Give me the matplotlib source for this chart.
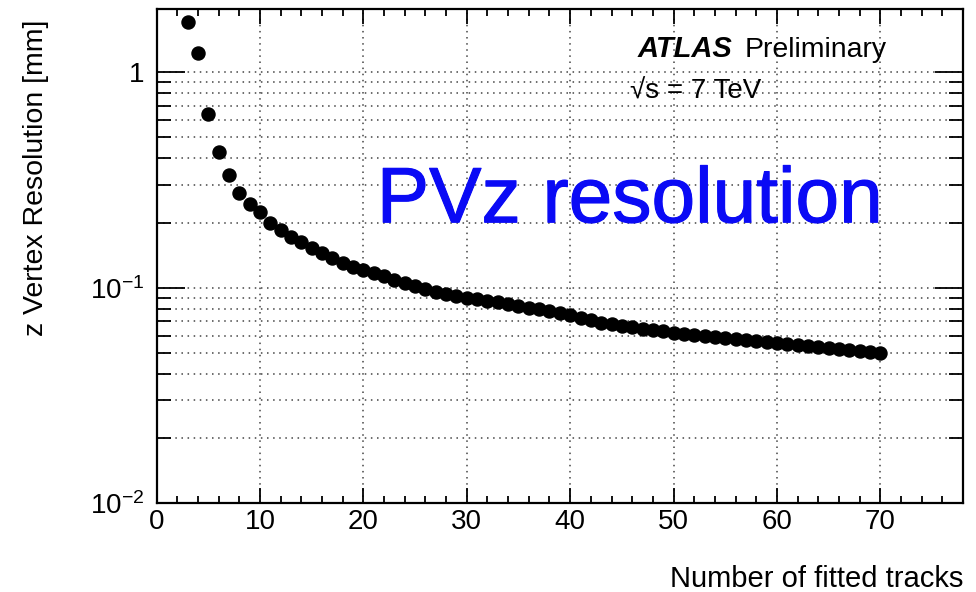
import matplotlib
matplotlib.use("Agg")
import matplotlib.pyplot as plt
import matplotlib.patheffects as pe
from matplotlib.ticker import FixedLocator, FixedFormatter, NullFormatter

plt.rcParams['font.family'] = ['Liberation Sans', 'DejaVu Sans']
plt.rcParams['mathtext.fontset'] = 'custom'
plt.rcParams['mathtext.rm'] = 'Liberation Sans'
plt.rcParams['mathtext.it'] = 'Liberation Sans:italic'

# data
n_tracks = list(range(3, 71))
resolution = [1.72, 1.23, 0.64, 0.425, 0.335, 0.275, 0.246, 0.224, 0.201, 0.185,
              0.173, 0.163, 0.153, 0.145, 0.138, 0.131, 0.125, 0.121, 0.117, 0.113,
              0.109, 0.105, 0.102, 0.099, 0.096, 0.094, 0.092, 0.090, 0.0885, 0.087,
              0.0855, 0.084, 0.0825, 0.081, 0.0795, 0.078, 0.0765, 0.075, 0.0728, 0.0707,
              0.069, 0.0677, 0.0665, 0.0655, 0.0645, 0.0636, 0.0628, 0.062, 0.0612, 0.0605,
              0.0598, 0.0591, 0.0584, 0.0577, 0.057, 0.0564, 0.0558, 0.0552, 0.0546, 0.054,
              0.0535, 0.053, 0.0525, 0.052, 0.0515, 0.051, 0.0505, 0.0498]
x_err = [0.5] * len(n_tracks)

fig = plt.figure(figsize=(9.76, 5.92), dpi=100)
ax = fig.add_axes([0.1605, 0.150, 0.8262, 0.834])

ax.errorbar(n_tracks, resolution, xerr=x_err, fmt='o', color='black',
            markersize=9.4, elinewidth=1.2, capsize=0, zorder=3)

ax.set_yscale('log')
ax.set_xlim(0, 78)
ax.set_ylim(0.01, 1.96)

# ROOT like ticks
ax.xaxis.set_major_locator(FixedLocator([0, 10, 20, 30, 40, 50, 60, 70]))
ax.xaxis.set_minor_locator(FixedLocator([i for i in range(2, 78, 2) if i % 10 != 0]))
ax.yaxis.set_major_locator(FixedLocator([0.01, 0.1, 1]))
ax.yaxis.set_major_formatter(FixedFormatter(['$10^{-2}$', '$10^{-1}$', '1']))
minor_y = [m * d for d in (0.01, 0.1) for m in range(2, 10)]
ax.yaxis.set_minor_locator(FixedLocator(minor_y))
ax.yaxis.set_minor_formatter(NullFormatter())

ax.tick_params(axis='both', which='both', direction='in', top=True, right=True,
               labelsize=20, width=1.3)
ax.tick_params(axis='x', which='major', length=11, pad=4)
ax.tick_params(axis='x', which='minor', length=5)
ax.tick_params(axis='y', which='major', length=20, pad=9)
ax.tick_params(axis='y', which='minor', length=10)

for s in ax.spines.values():
    s.set_linewidth(1.6)

ax.xaxis.grid(True, which='major', linestyle=(0, (1, 3)), color='#444444', lw=1.1)
ax.yaxis.grid(True, which='both', linestyle=(0, (1, 3)), color='#444444', lw=1.1)
ax.set_axisbelow(True)

ax.set_xlabel('Number of fitted tracks', fontsize=21, loc='right', labelpad=22)
ax.set_ylabel('z Vertex Resolution [mm]', fontsize=20.5, loc='top')
ax.yaxis.set_label_coords(-0.134, 0.979)

ax.text(0.597, 0.904, 'ATLAS', transform=ax.transAxes, fontsize=21,
        fontweight='bold', fontstyle='italic', va='baseline')
ax.text(0.7296, 0.904, 'Preliminary', transform=ax.transAxes, fontsize=20.5,
        va='baseline')
ax.text(0.587, 0.82, '√s = 7 TeV', transform=ax.transAxes, fontsize=20,
        va='baseline')
ax.text(0.273, 0.569, 'PVz resolution', transform=ax.transAxes, fontsize=56.5,
        color='#0a0af5', va='baseline',
        path_effects=[pe.withStroke(linewidth=0.8, foreground='#0a0af5')])

fig.savefig('out.png', dpi=100)
